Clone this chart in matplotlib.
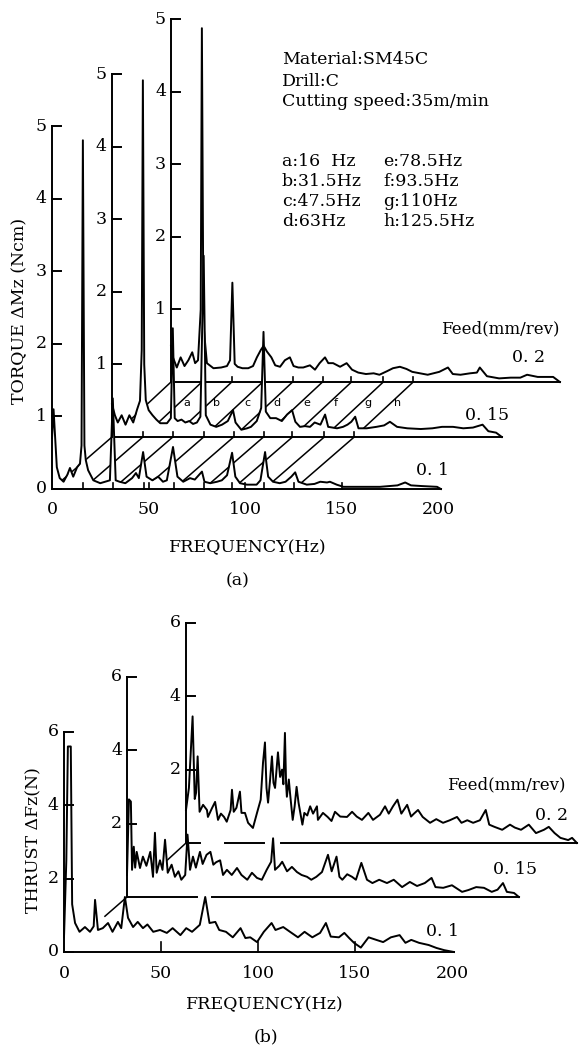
import numpy as np
import matplotlib
matplotlib.use("Agg")
from matplotlib import pyplot as plt

plt.rcParams["font.family"] = ["DejaVu Serif"]

W, H = 584, 1047

# (frequency Hz, torque Ncm), front to back
torque_01 = [(0, 0.7), (0.8, 1.1), (2.5, 0.3), (4, 0.15), (6, 0.1), (8, 0.2), (9.3, 0.29), (11, 0.17),
             (13, 0.3), (14.5, 0.35), (15.3, 0.6), (16, 4.81), (16.8, 0.6), (17.5, 0.4), (18.7, 0.26),
             (21.4, 0.12), (25, 0.08), (30, 0.12), (31.5, 1.25), (33, 0.12), (35, 0.1), (38, 0.08),
             (41.5, 0.15), (43.5, 0.22), (45, 0.15), (47.2, 0.51), (49, 0.17), (52, 0.12), (55, 0.17),
             (57.5, 0.1), (59.5, 0.12), (62.7, 0.58), (65, 0.17), (68, 0.1), (71.5, 0.15), (74, 0.13),
             (77.7, 0.24), (79, 0.1), (82, 0.08), (85.5, 0.1), (88, 0.12), (90.7, 0.19), (93.3, 0.5),
             (95, 0.17), (97.4, 0.08), (101, 0.06), (106, 0.06), (108, 0.12), (110.4, 0.51), (112, 0.17),
             (114.5, 0.1), (118, 0.08), (121, 0.1), (124, 0.17), (126, 0.23), (127.7, 0.1), (132, 0.06),
             (136, 0.07), (139, 0.1), (142.5, 0.09), (144, 0.1), (147.5, 0.06), (151, 0.03), (161, 0.03),
             (170, 0.03), (179, 0.05), (183, 0.09), (186, 0.05), (192, 0.04), (199.5, 0.03), (201.5, 0.0)]
torque_015 = [(0, 0.45), (1.5, 0.3), (3, 0.2), (5, 0.3), (7, 0.17), (9, 0.3), (11, 0.2), (13, 0.38),
              (14.5, 0.5), (15.4, 1.2), (16, 4.92), (16.7, 1.0), (17.5, 0.51), (19, 0.37), (21, 0.3),
              (23, 0.24), (25, 0.19), (28.5, 0.19), (30.5, 0.26), (31.5, 1.5), (32.5, 0.26), (34, 0.22),
              (36, 0.24), (38, 0.2), (40, 0.22), (42, 0.18), (44, 0.2), (45.8, 0.28), (47.5, 2.5),
              (48.6, 0.3), (51, 0.17), (54, 0.14), (57, 0.17), (60, 0.22), (62.7, 0.37), (64, 0.2),
              (67, 0.1), (70, 0.12), (72, 0.14), (75, 0.22), (77.3, 0.4), (78.5, 1.45), (79.7, 0.35),
              (82, 0.26), (85, 0.26), (88, 0.22), (90.7, 0.31), (93.3, 0.37), (95, 0.21), (97.4, 0.14),
              (100, 0.15), (102.6, 0.14), (105, 0.2), (108, 0.17), (110.4, 0.31), (112, 0.14),
              (116.6, 0.12), (119.7, 0.14), (122, 0.17), (124, 0.21), (126, 0.28), (127.7, 0.12),
              (132, 0.12), (137, 0.14), (141, 0.16), (144, 0.21), (147.7, 0.14), (153, 0.12), (160, 0.11),
              (166, 0.12), (171, 0.14), (176.7, 0.14), (182, 0.12), (187, 0.13), (192, 0.17), (195, 0.08),
              (199, 0.06), (202, 0.0)]
torque_02 = [(0, 0.5), (1, 0.34), (3, 0.2), (5, 0.34), (7, 0.22), (9, 0.3), (11, 0.41), (12.5, 0.26),
             (14, 0.3), (15.4, 1.0), (16, 4.88), (16.8, 0.8), (18.6, 0.26), (22, 0.19), (26, 0.2),
             (29, 0.22), (30.6, 0.3), (31.8, 1.37), (33, 0.25), (34.5, 0.21), (37, 0.19), (40, 0.19),
             (42.5, 0.22), (44.5, 0.34), (46.5, 0.44), (48, 0.5), (49.7, 0.42), (52, 0.34), (54, 0.23),
             (56.5, 0.21), (59, 0.3), (61.6, 0.34), (63.5, 0.22), (66, 0.2), (68.5, 0.2), (72, 0.23),
             (74.6, 0.17), (77, 0.26), (79.8, 0.34), (81.5, 0.26), (84, 0.26), (87.6, 0.21), (91, 0.26),
             (93.8, 0.17), (97, 0.13), (101, 0.11), (105, 0.12), (108, 0.1), (112, 0.15), (115, 0.19),
             (118.6, 0.21), (122, 0.18), (125, 0.14), (129, 0.12), (133, 0.1), (136, 0.12), (139, 0.14),
             (143.5, 0.2), (146, 0.11), (150, 0.1), (155, 0.12), (158.5, 0.13), (160, 0.2), (163.7, 0.08),
             (170, 0.05), (176, 0.06), (181, 0.06), (184.5, 0.1), (190, 0.07), (198, 0.07), (201.5, 0.0)]

# (frequency Hz, thrust N), front to back
thrust_01 = [(0, 0.4), (1.2, 2.5), (2, 5.6), (3.5, 5.6), (4.2, 1.3), (5.7, 0.79), (8, 0.55), (10.8, 0.68),
             (13.4, 0.55), (15.3, 0.7), (16, 1.42), (17.5, 0.6), (20, 0.65), (22.7, 0.79), (25, 0.55),
             (27.8, 0.82), (29.5, 0.65), (31.4, 1.5), (33, 0.93), (35.6, 0.68), (38, 0.82), (40.7, 0.65),
             (43, 0.75), (46, 0.55), (49.5, 0.6), (53, 0.52), (56, 0.65), (60, 0.46), (63, 0.65),
             (66, 0.55), (70, 0.74), (72.8, 1.5), (75, 0.79), (78, 0.82), (80, 0.6), (83.5, 0.55),
             (87, 0.4), (91, 0.65), (93.5, 0.38), (96, 0.4), (99.5, 0.27), (103, 0.55), (107, 0.79),
             (109, 0.6), (113, 0.68), (116.5, 0.55), (120.6, 0.4), (124, 0.55), (128, 0.4), (132, 0.52),
             (135, 0.79), (137.5, 0.42), (141.7, 0.4), (144.5, 0.52), (147, 0.38), (149.5, 0.25),
             (153, 0.12), (157, 0.4), (161, 0.33), (164.5, 0.27), (168.5, 0.4), (173, 0.46), (176, 0.25),
             (179, 0.33), (183, 0.25), (188, 0.19), (192, 0.11), (196, 0.05), (201, 0.0)]
thrust_015 = [(0, 0.6), (1, 2.66), (2, 2.6), (2.6, 0.74), (3.5, 1.37), (4.2, 0.8), (5, 1.23), (6.7, 0.79),
              (8.2, 1.1), (10, 0.85), (12, 1.23), (13.4, 0.55), (14.4, 1.75), (15.3, 0.66), (17, 1.0),
              (18.3, 0.74), (19.6, 1.56), (21, 0.66), (23, 0.88), (24.7, 0.55), (26.5, 0.7), (28, 0.47),
              (30, 0.6), (31.2, 1.7), (32.5, 0.74), (34, 1.1), (35.5, 0.8), (37.6, 1.23), (39, 0.9),
              (41, 1.15), (43, 1.23), (44.5, 0.88), (46, 0.95), (48, 1.0), (49.5, 0.6), (51.5, 0.74),
              (54, 0.6), (56.7, 0.79), (59, 0.6), (62, 0.47), (64.4, 0.66), (67, 0.52), (69.5, 0.47),
              (72, 0.74), (74.3, 0.96), (75.3, 1.6), (76.3, 0.74), (78.5, 0.85), (80, 0.96), (82.5, 0.7),
              (85, 0.82), (87.6, 0.68), (90, 0.6), (92.8, 0.55), (95, 0.47), (97.6, 0.55), (100.5, 0.68),
              (103.6, 1.15), (105.5, 0.7), (108, 1.1), (109.5, 0.55), (111, 0.47), (113.5, 0.62),
              (116, 0.55), (118, 0.47), (120.8, 0.93), (123.7, 0.47), (126.5, 0.38), (130, 0.47),
              (134, 0.38), (137.5, 0.47), (141.8, 0.27), (145.8, 0.41), (149.5, 0.3), (153.5, 0.38),
              (157, 0.52), (159, 0.27), (163, 0.25), (167.5, 0.32), (172.7, 0.14), (176, 0.19), (180, 0.27),
              (184, 0.25), (188, 0.14), (191, 0.2), (193.8, 0.38), (195.8, 0.14), (199.5, 0.11), (202, 0.0)]
thrust_02 = [(0, 0.9), (1.5, 1.5), (3.4, 3.45), (4.5, 1.2), (5.2, 1.37), (6, 2.36), (7, 0.85), (8.8, 1.04),
             (10.8, 0.9), (11.3, 0.71), (13.4, 0.95), (15, 1.12), (16.5, 0.63), (18, 0.8), (19.6, 0.71),
             (21, 0.58), (23, 0.9), (23.7, 1.45), (24.6, 0.85), (26, 0.96), (27.8, 1.4), (28.6, 0.82),
             (30.4, 0.82), (32, 0.55), (34.5, 0.41), (36.6, 0.82), (38.5, 1.18), (39.7, 2.19),
             (40.7, 2.74), (41.5, 1.5), (42.3, 1.1), (43.3, 1.7), (44.3, 2.36), (45.1, 1.64), (45.9, 1.5),
             (47.4, 2.47), (48.5, 1.8), (49.5, 2.0), (50.2, 1.6), (51, 3.0), (51.6, 1.6), (52, 1.26),
             (53, 1.73), (53.6, 1.37), (55, 0.63), (56, 1.0), (57, 1.53), (58, 1.1), (60, 0.5), (61, 0.82),
             (62.5, 0.75), (64, 1.0), (65.5, 0.8), (67.5, 1.0), (68, 0.63), (70.6, 0.82), (73, 0.71),
             (75, 0.6), (76.8, 0.85), (79.5, 0.72), (83, 0.71), (85.6, 0.85), (88, 0.72), (90.7, 0.63),
             (94, 0.82), (96.4, 0.63), (100, 0.77), (102.6, 1.0), (104.5, 0.8), (106.7, 1.0), (109, 1.18),
             (111, 0.8), (114, 1.04), (116, 0.72), (117.5, 0.8), (119.6, 0.9), (122, 0.71), (125.8, 0.55),
             (129, 0.65), (132.5, 0.55), (136, 0.62), (139.7, 0.71), (142, 0.55), (145, 0.62), (148, 0.55),
             (151.5, 0.62), (154.5, 0.9), (156.3, 0.5), (159, 0.44), (163, 0.36), (167, 0.5), (169.5, 0.42),
             (172.7, 0.36), (176.7, 0.5), (180.4, 0.27), (184.5, 0.36), (187, 0.44), (190, 0.27),
             (193, 0.14), (197, 0.08), (199, 0.14), (201.5, 0.0)]

feeds = ["0. 1", "0. 15", "0. 2"]
harmonics = [16, 31.5, 47.5, 63, 78.5, 93.5, 110, 125.5]
harmonic_letters = ["a", "b", "c", "d", "e", "f", "g", "h"]
harmonic_notes = ["a:16  Hz", "b:31.5Hz", "c:47.5Hz", "d:63Hz",
                  "e:78.5Hz", "f:93.5Hz", "g:110Hz", "h:125.5Hz"]
conditions = ["Material:SM45C", "Drill:C", "Cutting speed:35m/min"]
freq_ticks = [0, 50, 100, 150, 200]
torque_ticks = [0, 1, 2, 3, 4, 5]
thrust_ticks = [0, 2, 4, 6]
# baseline breaks in panel (b), in each trace's own Hz
thrust_gaps = [[], [(36, 44)], [(7, 20), (40, 49)]]

fig = plt.figure(figsize=(W / 100, H / 100), dpi=100)
LW = 1.4


def ptext(x, y, s, **kw):
    kw.setdefault("fontsize", 12.5)
    kw.setdefault("ha", "center")
    kw.setdefault("va", "center")
    fig.text(x / W, 1 - y / H, s, **kw)


def make_axes(top, bottom, x0, hz_px, y0, unit_px):
    ax = fig.add_axes([0, 1 - bottom / H, 1, (bottom - top) / H])
    ax.set_xlim(-x0 / hz_px, (W - x0) / hz_px)
    ax.set_ylim((y0 - bottom) / unit_px, (y0 - top) / unit_px)
    ax.axis("off")
    return ax


def waterfall(ax, spectra, offsets, yticks, hz_px, unit_px, gaps, marks, diag_freqs, connector):
    tick_x = 9 / hz_px
    for i in range(len(spectra)):
        dx, dy = offsets[i]
        z = 10 * (3 - i)
        f, v = np.array(spectra[i]).T
        ax.fill_between(f + dx, dy, v + dy, color="white", lw=0, zorder=z)
        ax.plot(f + dx, v + dy, color="k", lw=LW, zorder=z + 1)

        # baseline (with breaks)
        edges = [0]
        for g0, g1 in gaps[i]:
            edges += [g0, g1]
        edges.append(f[-1])
        for s0, s1 in zip(edges[::2], edges[1::2]):
            ax.plot([s0 + dx, s1 + dx], [dy, dy], color="k", lw=LW, zorder=z + 1)
        for m in marks[i]:
            ax.plot([m + dx, m + dx], [dy, dy + marks_len[i] / unit_px], color="k", lw=1.2, zorder=z + 1)

        # the trace's own amplitude axis
        tks = yticks if i == 0 else yticks[1:]
        ax.plot([dx, dx], [dy, dy + yticks[-1]], color="k", lw=LW, zorder=40)
        for t in tks:
            ax.plot([dx, dx + tick_x], [dy + t, dy + t], color="k", lw=LW, zorder=40)
            ax.text(dx - 5 / hz_px, dy + t, str(t), ha="right", va="center", fontsize=12.5, zorder=40)

        if i > 0:
            px, py = offsets[i - 1]
            for h in diag_freqs:
                ax.plot([h + dx, h + px], [dy, py], color="k", lw=1.1, zorder=z + 2)
            ax.plot([dx, dx + connector * (px - dx)], [dy, dy + connector * (py - dy)],
                    color="k", lw=1.1, zorder=z + 2)


# ---------------- panel (a) torque ----------------
ax_a = make_axes(0, 600, 52, 1.93, 489, 72.5)
off_a = [(0, 0), (60 / 1.93, 52 / 72.5), (119 / 1.93, 107 / 72.5)]
marks_len = [6, 5, 5]
waterfall(ax_a, [torque_01, torque_015, torque_02], off_a, torque_ticks, 1.93, 72.5,
          [[], [], []], [harmonics + [50, 100, 150], harmonics, harmonics], harmonics, 1.0)
for ft in freq_ticks:
    ax_a.text(ft, -21 / 72.5, str(ft), ha="center", va="center", fontsize=12.5)
(bx, by), (mx, my) = off_a[2], off_a[1]
for h, lt in zip(harmonics, harmonic_letters):
    t = 0.38
    ax_a.text(h + bx - t * (bx - mx) + 7 / 1.93, by - t * (by - my), lt, family="DejaVu Sans",
              fontsize=8, ha="center", va="center", zorder=45)

ptext(20, 311, "TORQUE ΔMz (Ncm)", rotation=90)
ptext(248, 548, "FREQUENCY(Hz)")
ptext(238, 581, "(a)")
for k, s in enumerate(conditions):
    ptext(282, 60 + 21 * k, s, ha="left")
for k, s in enumerate(harmonic_notes):
    ptext(282 + 101 * (k // 4), 162 + 20 * (k % 4), s, ha="left")
ptext(500, 329, "Feed(mm/rev)", fontsize=12)
for s, (x, y) in zip(feeds, [(433, 470), (487, 415), (529, 358)]):
    ptext(x, y, s)

# ---------------- panel (b) thrust ----------------
ax_b = make_axes(600, 1047, 64, 1.94, 952, 36.7)
off_b = [(0, 0), (63 / 1.94, 55 / 36.7), (122 / 1.94, 109 / 36.7)]
marks_len = [10, 0, 0]
waterfall(ax_b, [thrust_01, thrust_015, thrust_02], off_b, thrust_ticks, 1.94, 36.7,
          thrust_gaps, [[50, 100, 150], [], []], [], 0.35)
for ft in freq_ticks:
    ax_b.text(ft, -21 / 36.7, str(ft), ha="center", va="center", fontsize=12.5)

ptext(34, 840, "THRUST ΔFz(N)", rotation=90)
ptext(265, 1005, "FREQUENCY(Hz)")
ptext(266, 1037, "(b)")
ptext(506, 785, "Feed(mm/rev)", fontsize=12)
for s, (x, y) in zip(feeds, [(442, 932), (515, 870), (552, 815)]):
    ptext(x, y, s)

fig.savefig("out.png", dpi=100)
